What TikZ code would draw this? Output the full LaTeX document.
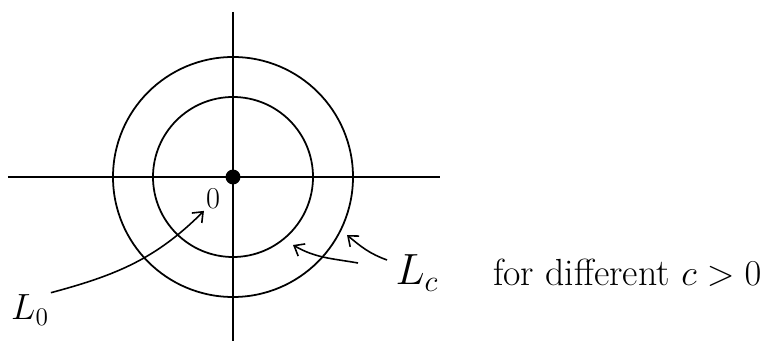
\documentclass[tikz,border=0pt]{standalone}
\usepackage{amsmath, amssymb}
\usetikzlibrary{arrows.meta, calc, positioning}

\begin{document}
\begin{tikzpicture}[x=0.02cm, y=0.02cm, >={Straight Barb[length=5pt,width=8pt]},
    curve/.style={->, line width=0.9pt},
    lbl/.style={inner sep=1pt}]
    \useasboundingbox (-233,177) rectangle (544,-164);
    % axes
    \draw[line width=1pt] (-225,0) -- (207,0);
    \draw[line width=1pt] (0,165) -- (0,-164);
    % level sets
    \draw[line width=1pt] (0,0) circle (80);
    \draw[line width=1pt] (0,0) circle (120);
    \node[circle, fill, inner sep=0pt, minimum size=8.5pt] (o) at (0,0) {};
    % labels
    \node[lbl, font=\fontsize{17}{20}\selectfont] (zero) at (-20,-22) {$0$};
    \node[lbl, font=\fontsize{22}{26}\selectfont] (Lzero) at (-203,-133) {$L_0$};
    \node[lbl, font=\fontsize{26}{30}\selectfont] (Lc) at (184,-96) {$L_c$};
    \node[lbl, font=\fontsize{21.5}{25}\selectfont, anchor=west] (note) at (258,-96) {for different $c>0$};
    % arrows
    \coordinate (innerpt) at (60,-68);
    \coordinate (outerpt) at (114,-58);
    \coordinate (tailin) at (125,-86);
    \coordinate (tailout) at (154,-83);
    \draw[curve] (Lzero.north east) to[out=15, in=225] (zero.south west);
    \draw[curve] (tailin) to[out=170, in=-30] (innerpt);
    \draw[curve] (tailout) to[out=160, in=-40] (outerpt);
\end{tikzpicture}
\end{document}
